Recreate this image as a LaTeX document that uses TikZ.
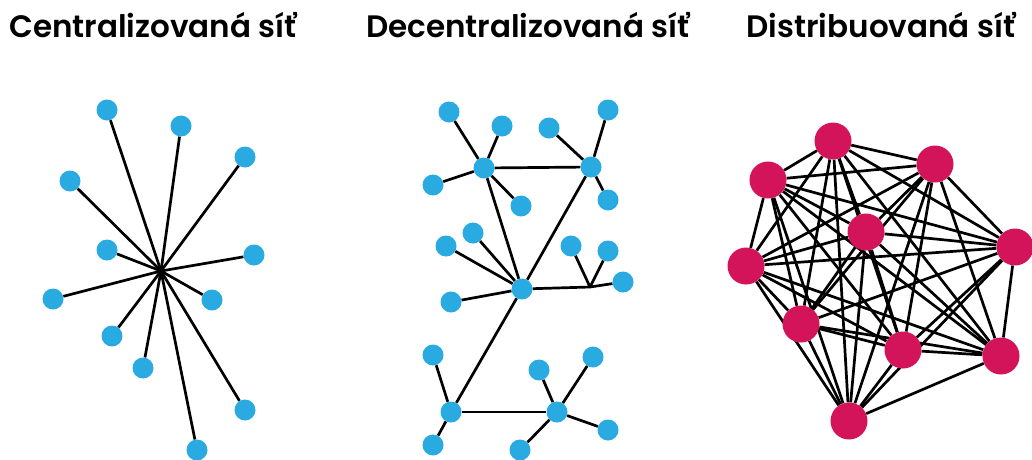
\documentclass[tikz,border=0pt]{standalone}
\usepackage{fontspec}
\setmainfont{Poppins}
\newfontfamily\titlefont{Poppins SemiBold}
\usetikzlibrary{backgrounds}
\definecolor{dotblue}{HTML}{29ABE2}
\definecolor{dotpink}{HTML}{D4145A}
\tikzset{
  small/.style={circle,fill=dotblue,minimum size=21pt,inner sep=0pt},
  big/.style={circle,fill=dotpink,minimum size=37pt,inner sep=0pt},
  link/.style={draw=black,line width=2.7pt},
  title/.style={anchor=base,font=\titlefont\fontsize{31}{35}\selectfont,inner sep=0pt}
}
\begin{document}
\begin{tikzpicture}[x=1pt,y=-1pt]
\useasboundingbox (0,0) rectangle (1032,459);
% titles
\node[title] (t1) at (153,37) {Centralizovaná síť};
\node[title] (t2) at (528,37) {Decentralizovaná síť};
\node[title] (t3) at (881,37) {Distribuovaná síť};
% centralized
\coordinate (c0) at (161,271);
\foreach \i/\x/\y in {1/107/110,2/181/126,3/245/157,4/70/181,5/107/250,6/254/255,7/53/299,8/212/300,9/112/336,10/143/368,11/245/410,12/197/450}{
  \node[small] (c\i) at (\x,\y) {};
}
\begin{pgfonlayer}{background}
\foreach \i in {1,...,12}{\draw[link] (c0) -- (c\i);}
\end{pgfonlayer}
% decentralized
\node[small] (dA) at (484,168) {};
\node[small] (dB) at (591,167) {};
\node[small] (dC) at (522,289) {};
\node[small] (dD) at (451,412) {};
\node[small] (dE) at (557,412) {};
\coordinate (dJ) at (590,287);
\node[small] (a1) at (449,112) {};
\node[small] (a2) at (502,126) {};
\node[small] (a3) at (433,185) {};
\node[small] (a4) at (521,206) {};
\node[small] (b1) at (549,128) {};
\node[small] (b2) at (608,110) {};
\node[small] (b3) at (608,200) {};
\node[small] (cc1) at (473,233) {};
\node[small] (cc2) at (446,246) {};
\node[small] (cc3) at (451,302) {};
\node[small] (j1) at (571,246) {};
\node[small] (j2) at (608,251) {};
\node[small] (j3) at (623,282) {};
\node[small] (e1) at (433,355) {};
\node[small] (e2) at (433,445) {};
\node[small] (f1) at (539,370) {};
\node[small] (f2) at (593,357) {};
\node[small] (f3) at (608,430) {};
\node[small] (f4) at (520,450) {};
\begin{pgfonlayer}{background}
\draw[link] (dA) -- (dB);
\draw[link] (dA) -- (dC);
\draw[link] (dB) -- (dC);
\draw[link] (dC) -- (dJ);
\draw[link] (dC) -- (dD);
\draw[link] (dD) -- (dE);
\foreach \n in {a1,a2,a3,a4}{\draw[link] (dA) -- (\n);}
\foreach \n in {b1,b2,b3}{\draw[link] (dB) -- (\n);}
\foreach \n in {cc1,cc2,cc3}{\draw[link] (dC) -- (\n);}
\foreach \n in {j1,j2,j3}{\draw[link] (dJ) -- (\n);}
\foreach \n in {e1,e2}{\draw[link] (dD) -- (\n);}
\foreach \n in {f1,f2,f3,f4}{\draw[link] (dE) -- (\n);}
\end{pgfonlayer}
% distributed
\foreach \i/\x/\y in {1/833/141,2/935/164,3/768/180,4/866/232,5/1015/247,6/746/266,7/801/324,8/903/350,9/1001/356,10/849/421}{
  \node[big] (n\i) at (\x,\y) {};
}
\begin{pgfonlayer}{background}
\foreach \i in {1,...,10}{
  \foreach \j in {1,...,10}{
    \ifnum\i<\j \draw[link] (n\i) -- (n\j);\fi
  }
}
\end{pgfonlayer}
\end{tikzpicture}
\end{document}
